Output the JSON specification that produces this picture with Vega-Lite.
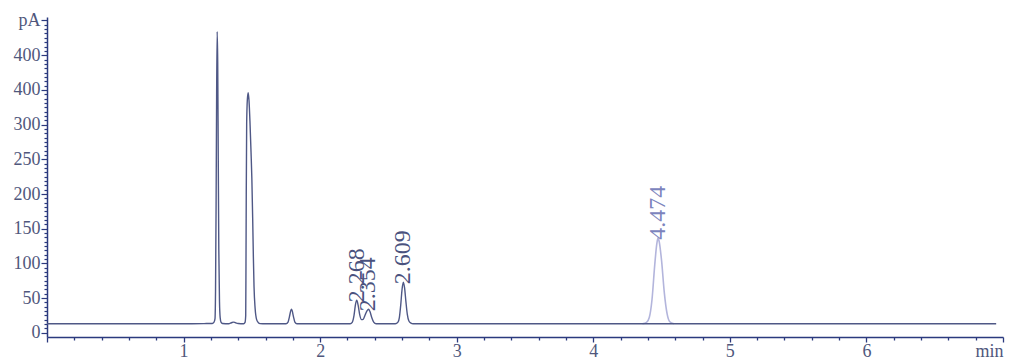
{
  "$schema": "https://vega.github.io/schema/vega-lite/v6.json",
  "width": 956,
  "height": 320,
  "autosize": "none",
  "padding": {"left": 47, "top": 17, "right": 12, "bottom": 22},
  "background": "white",
  "config": {"view": {"stroke": null}},
  "datasets": {
    "signal": [
      {"t": 0, "v": 13, "s": "a"}, {"t": 0.5, "v": 13, "s": "a"}, {"t": 1.0, "v": 13, "s": "a"},
      {"t": 1.15, "v": 13.3, "s": "a"}, {"t": 1.21, "v": 13.5, "s": "a"}, {"t": 1.222, "v": 15, "s": "a"},
      {"t": 1.23, "v": 20, "s": "a"}, {"t": 1.234, "v": 60, "s": "a"}, {"t": 1.238, "v": 180, "s": "a"},
      {"t": 1.242, "v": 340, "s": "a"}, {"t": 1.246, "v": 434, "s": "a"}, {"t": 1.25, "v": 390, "s": "a"},
      {"t": 1.254, "v": 250, "s": "a"}, {"t": 1.258, "v": 120, "s": "a"}, {"t": 1.263, "v": 45, "s": "a"},
      {"t": 1.268, "v": 22, "s": "a"}, {"t": 1.275, "v": 15, "s": "a"}, {"t": 1.285, "v": 13.5, "s": "a"},
      {"t": 1.33, "v": 13, "s": "a"}, {"t": 1.35, "v": 14.5, "s": "a"}, {"t": 1.365, "v": 15.5, "s": "a"},
      {"t": 1.38, "v": 14.5, "s": "a"}, {"t": 1.40, "v": 13.5, "s": "a"}, {"t": 1.44, "v": 13, "s": "a"},
      {"t": 1.45, "v": 15, "s": "a"}, {"t": 1.455, "v": 25, "s": "a"}, {"t": 1.457, "v": 100, "s": "a"},
      {"t": 1.459, "v": 200, "s": "a"}, {"t": 1.462, "v": 300, "s": "a"}, {"t": 1.467, "v": 336, "s": "a"},
      {"t": 1.473, "v": 346, "s": "a"}, {"t": 1.479, "v": 335, "s": "a"}, {"t": 1.486, "v": 305, "s": "a"},
      {"t": 1.494, "v": 260, "s": "a"}, {"t": 1.5, "v": 222, "s": "a"}, {"t": 1.506, "v": 165, "s": "a"},
      {"t": 1.511, "v": 110, "s": "a"}, {"t": 1.516, "v": 66, "s": "a"}, {"t": 1.524, "v": 35, "s": "a"},
      {"t": 1.535, "v": 19, "s": "a"}, {"t": 1.548, "v": 14.5, "s": "a"}, {"t": 1.56, "v": 13.3, "s": "a"},
      {"t": 1.6, "v": 13, "s": "a"}, {"t": 1.75, "v": 13, "s": "a"},
      {"t": 1.765, "v": 15.5, "s": "a"}, {"t": 1.775, "v": 23, "s": "a"}, {"t": 1.785, "v": 32, "s": "a"},
      {"t": 1.79, "v": 34, "s": "a"}, {"t": 1.795, "v": 32, "s": "a"}, {"t": 1.805, "v": 23, "s": "a"},
      {"t": 1.815, "v": 15.5, "s": "a"}, {"t": 1.83, "v": 13, "s": "a"}, {"t": 2.0, "v": 13, "s": "a"},
      {"t": 2.22, "v": 13, "s": "a"}, {"t": 2.235, "v": 15, "s": "a"}, {"t": 2.248, "v": 25, "s": "a"},
      {"t": 2.258, "v": 40, "s": "a"}, {"t": 2.268, "v": 47, "s": "a"}, {"t": 2.278, "v": 40, "s": "a"},
      {"t": 2.29, "v": 26, "s": "a"}, {"t": 2.303, "v": 19, "s": "a"}, {"t": 2.315, "v": 19.5, "s": "a"},
      {"t": 2.33, "v": 26, "s": "a"}, {"t": 2.344, "v": 32, "s": "a"}, {"t": 2.354, "v": 34, "s": "a"},
      {"t": 2.364, "v": 31, "s": "a"}, {"t": 2.378, "v": 22, "s": "a"}, {"t": 2.392, "v": 15.5, "s": "a"},
      {"t": 2.41, "v": 13, "s": "a"}, {"t": 2.55, "v": 13, "s": "a"}, {"t": 2.57, "v": 15.5, "s": "a"},
      {"t": 2.58, "v": 22, "s": "a"}, {"t": 2.59, "v": 40, "s": "a"}, {"t": 2.60, "v": 63, "s": "a"},
      {"t": 2.609, "v": 73, "s": "a"}, {"t": 2.618, "v": 65, "s": "a"}, {"t": 2.628, "v": 45, "s": "a"},
      {"t": 2.638, "v": 27, "s": "a"}, {"t": 2.65, "v": 17, "s": "a"}, {"t": 2.665, "v": 14, "s": "a"},
      {"t": 2.68, "v": 13, "s": "a"}, {"t": 3.0, "v": 13, "s": "a"}, {"t": 3.5, "v": 13, "s": "a"},
      {"t": 4.0, "v": 13, "s": "a"}, {"t": 4.36, "v": 13, "s": "a"}, {"t": 4.59, "v": 13, "s": "a"},
      {"t": 5.0, "v": 13, "s": "a"}, {"t": 5.5, "v": 13, "s": "a"}, {"t": 6.0, "v": 13, "s": "a"},
      {"t": 6.5, "v": 13, "s": "a"}, {"t": 6.95, "v": 13, "s": "a"},
      {"t": 4.36, "v": 13, "s": "b"}, {"t": 4.39, "v": 15, "s": "b"}, {"t": 4.41, "v": 22, "s": "b"},
      {"t": 4.43, "v": 48, "s": "b"}, {"t": 4.45, "v": 98, "s": "b"}, {"t": 4.465, "v": 128, "s": "b"},
      {"t": 4.474, "v": 137, "s": "b"}, {"t": 4.483, "v": 131, "s": "b"}, {"t": 4.50, "v": 104, "s": "b"},
      {"t": 4.52, "v": 58, "s": "b"}, {"t": 4.54, "v": 28, "s": "b"}, {"t": 4.56, "v": 16, "s": "b"},
      {"t": 4.59, "v": 13, "s": "b"}
    ],
    "labels": [
      {"t": 2.268, "v": 47, "label": "2.268", "s": "a"},
      {"t": 2.354, "v": 34, "label": "2.354", "s": "a"},
      {"t": 2.609, "v": 73, "label": "2.609", "s": "a"},
      {"t": 4.474, "v": 137, "label": "4.474", "s": "b"}
    ]
  },
  "encoding": {
    "x": {
      "field": "t", "type": "quantitative",
      "scale": {"domain": [0, 7], "nice": false, "zero": false},
      "axis": {
        "title": null, "grid": false, "orient": "bottom", "format": "~g",
        "values": [0, 0.2, 0.4, 0.6, 0.8, 1, 1.2, 1.4, 1.6, 1.8, 2, 2.2, 2.4, 2.6, 2.8, 3, 3.2, 3.4, 3.6, 3.8, 4, 4.2, 4.4, 4.6, 4.8, 5, 5.2, 5.4, 5.6, 5.8, 6, 6.2, 6.4, 6.6, 6.8, 7],
        "labelExpr": "datum.value === 7 ? 'min' : (datum.value % 1 === 0 && datum.value >= 1 ? datum.label : '')",
        "labelAlign": {"condition": {"test": "datum.value === 7", "value": "right"}, "value": "center"},
        "tickSize": {"condition": {"test": "datum.value % 1 === 0", "value": 5}, "value": 3},
        "labelOverlap": false, "labelFlush": false, "labelBound": false,
        "labelFont": "Liberation Serif", "labelFontSize": 18, "labelColor": "#50577c",
        "labelPadding": 0,
        "domainColor": "#2b3a7e", "domainWidth": 1.5, "tickColor": "#2b3a7e", "tickWidth": 1.3
      }
    },
    "y": {
      "field": "v", "type": "quantitative",
      "scale": {"domain": [-6, 455], "nice": false, "zero": false},
      "axis": {
        "title": null, "grid": false, "orient": "left",
        "values": [0, 6.25, 12.5, 18.75, 25, 31.25, 37.5, 43.75, 50, 56.25, 62.5, 68.75, 75, 81.25, 87.5, 93.75, 100, 106.25, 112.5, 118.75, 125, 131.25, 137.5, 143.75, 150, 156.25, 162.5, 168.75, 175, 181.25, 187.5, 193.75, 200, 206.25, 212.5, 218.75, 225, 231.25, 237.5, 243.75, 250, 256.25, 262.5, 268.75, 275, 281.25, 287.5, 293.75, 300, 306.25, 312.5, 318.75, 325, 331.25, 337.5, 343.75, 350, 356.25, 362.5, 368.75, 375, 381.25, 387.5, 393.75, 400, 406.25, 412.5, 418.75, 425, 431.25, 437.5, 443.75, 450],
        "labelExpr": "datum.value % 50 === 0 ? (datum.value === 350 ? '400' : (datum.value === 450 ? 'pA' : datum.label)) : ''",
        "tickSize": {"condition": {"test": "datum.value % 50 === 0", "value": 6}, "value": 3},
        "labelOverlap": false, "labelBound": false, "labelFlush": false,
        "labelFont": "Liberation Serif", "labelFontSize": 18, "labelColor": "#50577c",
        "labelPadding": 1,
        "domainColor": "#2b3a7e", "domainWidth": 1.5, "tickColor": "#2b3a7e", "tickWidth": 1.2
      }
    }
  },
  "layer": [
    {
      "data": {"name": "signal"},
      "transform": [{"filter": "datum.s === 'b'"}],
      "mark": {"type": "line", "color": "#b3b5dc", "strokeWidth": 1.6, "interpolate": "monotone"}
    },
    {
      "data": {"name": "signal"},
      "transform": [{"filter": "datum.s === 'a'"}],
      "mark": {"type": "line", "color": "#4f5886", "strokeWidth": 1.4, "interpolate": "monotone"}
    },
    {
      "data": {"name": "labels"},
      "mark": {"type": "text", "angle": 270, "align": "left", "baseline": "middle", "dx": -2, "font": "Liberation Serif", "fontSize": 24},
      "encoding": {
        "text": {"field": "label"},
        "color": {"field": "s", "type": "nominal", "scale": {"domain": ["a", "b"], "range": ["#4a527e", "#7c84bd"]}, "legend": null}
      }
    }
  ]
}
